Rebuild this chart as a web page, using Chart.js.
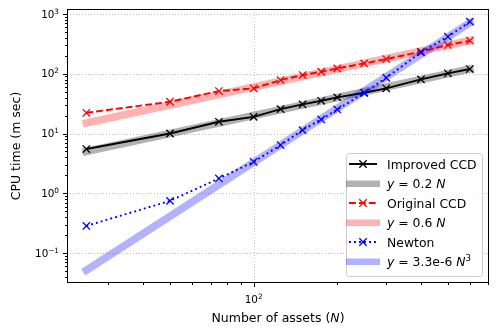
<!DOCTYPE html>
<html>
<head>
<meta charset="utf-8">
<script src="https://cdn.jsdelivr.net/npm/chart.js@4.4.1/dist/chart.umd.min.js"></script>
<style>
    html, body { margin: 0; padding: 0; background: #fff; }
    #wrap { width: 498px; height: 335px; }
</style>
</head>
<body>
<div id="wrap"><canvas id="chart" width="498" height="335"></canvas></div>
<script>
// values
const assets = [25, 50, 75, 100, 125, 150, 175, 200, 250, 300, 400, 500, 600];
const improvedCCD = [5.5, 10.0, 15.7, 19.0, 25.6, 30.7, 35.3, 40.2, 48.0, 57.0, 80.5, 101.6, 120];
const originalCCD = [22.2, 34.0, 51.3, 57.0, 78.4, 95.0, 108, 123, 149, 176, 234, 303, 357];
const newton = [0.284, 0.746, 1.77, 3.36, 6.4, 11.4, 17.2, 25.3, 48.0, 85.7, 228, 417, 743];

// reference lines, endpoints only (straight on log-log axes)
const fitAssets = [25, 600];
const fitLinearLow = [5, 120];
const fitLinearHigh = [15, 360];
const fitCubic = [0.0516, 713];

// decade tick labels (exponents of 10)
const xTickExps = [2];
const yTickExps = [-1, 0, 1, 2, 3];
const xRange = [21.3, 703];
const yRange = [0.0315, 1212];

const FONT = "'DejaVu Sans', sans-serif";

function pairs(xs, ys) {
    return xs.map((x, i) => ({ x: x, y: ys[i] }));
}

function drawCross(ctx, x, y, r, color) {
    ctx.save();
    ctx.strokeStyle = color;
    ctx.lineWidth = 1.3;
    ctx.setLineDash([]);
    ctx.beginPath();
    ctx.moveTo(x - r, y - r); ctx.lineTo(x + r, y + r);
    ctx.moveTo(x - r, y + r); ctx.lineTo(x + r, y - r);
    ctx.stroke();
    ctx.restore();
}

// text made of parts: [text, style] with style '' | 'i' | 'sup'
function partFont(style, size) {
    if (style === 'sup') return (size * 0.7).toFixed(1) + 'px ' + FONT;
    return (style === 'i' ? 'italic ' : '') + size + 'px ' + FONT;
}

function partsWidth(ctx, parts, size) {
    let w = 0;
    for (const [t, s] of parts) {
        ctx.font = partFont(s, size);
        w += ctx.measureText(t).width;
    }
    return w;
}

function drawParts(ctx, parts, x, y, size) {
    let cx = x;
    for (const [t, s] of parts) {
        ctx.font = partFont(s, size);
        ctx.fillText(t, cx, s === 'sup' ? y - size * 0.39 : y);
        cx += ctx.measureText(t).width;
    }
}

function expLabel(e) {
    return [['10', ''], [e < 0 ? '\u2212' + (-e) : String(e), 'sup']];
}

// minor tick values inside a range
function minorTicks(min, max) {
    const out = [];
    for (let e = Math.floor(Math.log10(min)); e <= Math.ceil(Math.log10(max)); e++) {
        for (let k = 2; k <= 9; k++) {
            const v = k * Math.pow(10, e);
            if (v >= min && v <= max) out.push(v);
        }
    }
    return out;
}

const gridPlugin = {
    id: 'mplGrid',
    beforeDatasetsDraw(chart) {
        const { ctx, chartArea: a, scales } = chart;
        ctx.save();
        ctx.strokeStyle = '#b0b0b0';
        ctx.lineWidth = 0.8;
        ctx.setLineDash([1, 2]);
        xTickExps.forEach(e => {
            const px = Math.round(scales.x.getPixelForValue(Math.pow(10, e))) + 0.5;
            ctx.beginPath(); ctx.moveTo(px, a.top); ctx.lineTo(px, a.bottom); ctx.stroke();
        });
        yTickExps.forEach(e => {
            const py = Math.round(scales.y.getPixelForValue(Math.pow(10, e))) + 0.5;
            ctx.beginPath(); ctx.moveTo(a.left, py); ctx.lineTo(a.right, py); ctx.stroke();
        });
        ctx.restore();
    },
};

const axesPlugin = {
    id: 'mplAxes',
    afterDraw(chart) {
        const { ctx, chartArea: a, scales } = chart;
        const L = Math.round(a.left) + 0.5, R = Math.round(a.right) - 0.5;
        const T = Math.round(a.top) + 0.5, B = Math.round(a.bottom) - 0.5;
        ctx.save();
        ctx.setLineDash([]);
        ctx.strokeStyle = '#000';
        ctx.lineWidth = 1;
        ctx.strokeRect(L, T, R - L, B - T);

        // tick marks, outside the frame
        const tick = (x1, y1, x2, y2) => { ctx.beginPath(); ctx.moveTo(x1, y1); ctx.lineTo(x2, y2); ctx.stroke(); };
        xTickExps.forEach(e => {
            const px = Math.round(scales.x.getPixelForValue(Math.pow(10, e))) + 0.5;
            tick(px, B, px, B + 4.5);
        });
        minorTicks(xRange[0], xRange[1]).forEach(v => {
            const px = Math.round(scales.x.getPixelForValue(v)) + 0.5;
            tick(px, B, px, B + 2.5);
        });
        yTickExps.forEach(e => {
            const py = Math.round(scales.y.getPixelForValue(Math.pow(10, e))) + 0.5;
            tick(L, py, L - 4.5, py);
        });
        minorTicks(yRange[0], yRange[1]).forEach(v => {
            const py = Math.round(scales.y.getPixelForValue(v)) + 0.5;
            tick(L, py, L - 2.5, py);
        });

        // tick labels
        ctx.fillStyle = '#000';
        ctx.textBaseline = 'alphabetic';
        ctx.textAlign = 'left';
        const ts = 10.4;
        xTickExps.forEach(e => {
            const px = scales.x.getPixelForValue(Math.pow(10, e));
            const parts = expLabel(e);
            drawParts(ctx, parts, px - partsWidth(ctx, parts, ts) / 2, 302.8, ts);
        });
        yTickExps.forEach(e => {
            const py = scales.y.getPixelForValue(Math.pow(10, e));
            const parts = expLabel(e);
            drawParts(ctx, parts, 59 - partsWidth(ctx, parts, ts), py + 3.7, ts);
        });

        // axis titles
        const fs = 12.5;
        const xTitle = [['Number of assets (', ''], ['N', 'i'], [')', '']];
        drawParts(ctx, xTitle, (a.left + a.right) / 2 - partsWidth(ctx, xTitle, fs) / 2, 322, fs);
        ctx.save();
        ctx.translate(19.5, (a.top + a.bottom) / 2);
        ctx.rotate(-Math.PI / 2);
        ctx.font = fs + 'px ' + FONT;
        ctx.textAlign = 'center';
        ctx.fillText('CPU time (m sec)', 0, 0);
        ctx.restore();
        ctx.restore();
    },
};

// legend entries, in plot order
const legendRows = [
    { kind: 'line', color: '#000000', dash: [], text: [['Improved CCD', '']] },
    { kind: 'band', color: 'rgba(0,0,0,0.3)', text: [['y', 'i'], [' = 0.2 ', ''], ['N', 'i']] },
    { kind: 'line', color: '#ff0000', dash: [6.9, 3], text: [['Original CCD', '']] },
    { kind: 'band', color: 'rgba(255,0,0,0.3)', text: [['y', 'i'], [' = 0.6 ', ''], ['N', 'i']] },
    { kind: 'line', color: '#0000ff', dash: [1.9, 3.1], text: [['Newton', '']] },
    { kind: 'band', color: 'rgba(0,0,255,0.3)', text: [['y', 'i'], [' = 3.3e-6 ', ''], ['N', 'i'], ['3', 'sup']] },
];

const legendPlugin = {
    id: 'mplLegend',
    afterDraw(chart) {
        const ctx = chart.ctx;
        const bx = 346.5, by = 153.5, bw = 136, bh = 123, r = 3;
        ctx.save();
        ctx.setLineDash([]);
        ctx.beginPath();
        ctx.roundRect(bx, by, bw, bh, r);
        ctx.fillStyle = 'rgba(255,255,255,0.8)';
        ctx.fill();
        ctx.strokeStyle = '#cccccc';
        ctx.lineWidth = 1;
        ctx.stroke();

        const x1 = 349, x2 = 377, tx = 387, fs = 12.4;
        legendRows.forEach((row, i) => {
            const cy = 164 + i * 19.5;
            if (row.kind === 'line') {
                ctx.strokeStyle = row.color;
                ctx.lineWidth = 1.9;
                ctx.lineCap = 'butt';
                ctx.setLineDash(row.dash);
                ctx.beginPath(); ctx.moveTo(x1, cy); ctx.lineTo(x2, cy); ctx.stroke();
                ctx.setLineDash([]);
                drawCross(ctx, (x1 + x2) / 2, cy, 3.7, row.color);
            } else {
                ctx.fillStyle = row.color;
                ctx.fillRect(x1 - 3, cy - 3, x2 - x1 + 6, 6.5);
            }
            ctx.fillStyle = '#000';
            ctx.textBaseline = 'alphabetic';
            ctx.textAlign = 'left';
            drawParts(ctx, row.text, tx, cy + 4.5, fs);
        });
        ctx.restore();
    },
};

function dataLine(label, ys, color, dash, order) {
    return {
        label: label,
        data: pairs(assets, ys),
        borderColor: color,
        borderWidth: 1.9,
        borderDash: dash,
        borderCapStyle: 'butt',
        pointStyle: 'crossRot',
        pointRadius: 5.2,
        pointBorderColor: color,
        pointBorderWidth: 1.3,
        pointBackgroundColor: color,
        tension: 0,
        fill: false,
        order: order,
    };
}

function fitLine(label, ys, color, order) {
    return {
        label: label,
        data: pairs(fitAssets, ys),
        borderColor: color,
        borderWidth: 7.5,
        borderCapStyle: 'square',
        pointRadius: 0,
        tension: 0,
        fill: false,
        order: order,
    };
}

const hiddenAxis = (range) => ({
    type: 'logarithmic',
    min: range[0],
    max: range[1],
    display: false,
    grid: { display: false, drawTicks: false },
    ticks: { display: false },
    border: { display: false },
});

new Chart(document.getElementById('chart'), {
    type: 'line',
    data: {
        datasets: [
            dataLine('Improved CCD', improvedCCD, '#000000', [], 6),
            fitLine('y = 0.2 N', fitLinearLow, 'rgba(0,0,0,0.3)', 5),
            dataLine('Original CCD', originalCCD, '#ff0000', [6.9, 3], 4),
            fitLine('y = 0.6 N', fitLinearHigh, 'rgba(255,0,0,0.3)', 3),
            dataLine('Newton', newton, '#0000ff', [1.9, 3.1], 2),
            fitLine('y = 3.3e-6 N^3', fitCubic, 'rgba(0,0,255,0.3)', 1),
        ],
    },
    options: {
        responsive: false,
        animation: false,
        events: [],
        layout: { padding: { left: 67, right: 9, top: 9, bottom: 52 } },
        plugins: {
            legend: { display: false },
            tooltip: { enabled: false },
        },
        scales: {
            x: hiddenAxis(xRange),
            y: hiddenAxis(yRange),
        },
    },
    plugins: [gridPlugin, axesPlugin, legendPlugin],
});
</script>
</body>
</html>
